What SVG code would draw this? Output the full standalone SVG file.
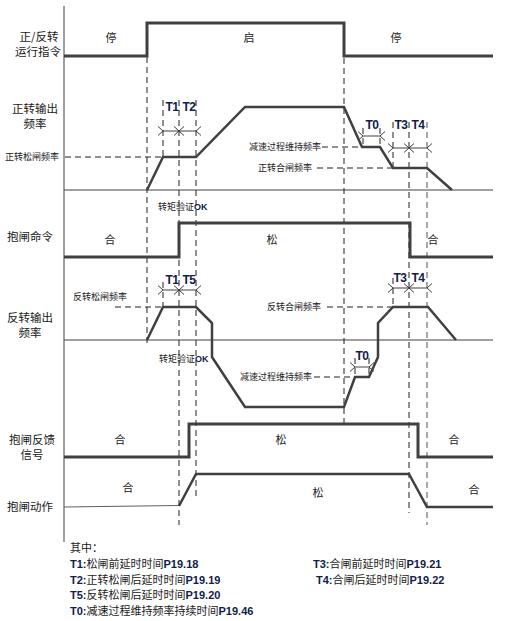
<svg xmlns="http://www.w3.org/2000/svg" width="505" height="621" viewBox="0 0 505 621">
<style>
.bg{fill:#ffffff}
.ax{stroke:#404040;stroke-width:1;fill:none}
.sig{stroke:#404040;stroke-width:3;fill:none;stroke-linejoin:miter}
.thin{stroke:#606060;stroke-width:1.2;fill:none}
.dash{stroke:#202020;stroke-width:1;stroke-dasharray:6,4;fill:none}
.arr{stroke:#404040;stroke-width:1;fill:none;marker-start:url(#ch);marker-end:url(#ch)}
.lab{font-family:"Noto Sans CJK SC","Liberation Sans",sans-serif;font-size:11.5px;fill:#1a1a1a}
.st{font-family:"Noto Sans CJK SC","Liberation Sans",sans-serif;font-size:11px;fill:#1a1a1a;text-anchor:middle}
.sm{font-family:"Noto Sans CJK SC","Liberation Sans",sans-serif;font-size:9px;fill:#1a1a1a}
.tl{font-family:"Liberation Sans","Noto Sans CJK SC",sans-serif;font-size:12px;font-weight:bold;fill:#10204a;text-anchor:middle;letter-spacing:-0.5px}
.lg{font-family:"Noto Sans CJK SC","Liberation Sans",sans-serif;font-size:11px;fill:#1a1a1a}
.b{font-family:"Liberation Sans",sans-serif;font-weight:bold;fill:#10204a}
</style>
<defs>
<marker id="ch" viewBox="-1 -6 8 12" markerWidth="8" markerHeight="12" refX="0" refY="0" orient="auto-start-reverse" markerUnits="userSpaceOnUse">
<path d="M5,-4.5 L0,0 L5,4.5" stroke="#404040" stroke-width="1" fill="none"/>
</marker>
</defs>
<rect class="bg" x="0" y="0" width="505" height="621"/>

<g id="axes">
<line class="ax" x1="64" y1="6" x2="64" y2="542"/>
<line class="ax" x1="64" y1="190" x2="493" y2="190"/>
<line class="ax" x1="64" y1="340" x2="493" y2="340"/>
</g>

<g id="connectors">
<line class="dash" x1="147" y1="57" x2="147" y2="345"/>
<line class="dash" x1="163" y1="100" x2="163" y2="157"/>
<line class="dash" x1="163" y1="282" x2="163" y2="307"/>
<line class="dash" x1="179" y1="100" x2="179" y2="525"/>
<line class="dash" x1="196" y1="100" x2="196" y2="498"/>
<line class="dash" x1="344" y1="58" x2="344" y2="423"/>
<line class="dash" x1="363" y1="128" x2="363" y2="147"/>
<line class="dash" x1="380" y1="128" x2="380" y2="147"/>
<line class="dash" x1="393" y1="122" x2="393" y2="168"/>
<line class="dash" x1="393" y1="278" x2="393" y2="307"/>
<line class="dash" x1="355" y1="358" x2="355" y2="377"/>
<line class="dash" x1="369" y1="358" x2="369" y2="377"/>
<line class="dash" x1="409" y1="122" x2="409" y2="513"/>
<line class="dash" x1="427" y1="122" x2="427" y2="525" style="stroke:#505050"/>
<line class="dash" x1="65" y1="157" x2="163" y2="157"/>
<line class="dash" x1="322" y1="147" x2="363" y2="147"/>
<line class="dash" x1="317" y1="168" x2="393" y2="168"/>
<line class="dash" x1="115" y1="307" x2="163" y2="307"/>
<line class="dash" x1="327" y1="307" x2="393" y2="307"/>
<line class="dash" x1="314" y1="377" x2="355" y2="377"/>
<line class="arr" x1="163" y1="131" x2="179" y2="131"/>
<line class="arr" x1="179" y1="131" x2="196" y2="131"/>
<line class="arr" x1="363" y1="136" x2="380" y2="136"/>
<line class="arr" x1="393" y1="148" x2="409" y2="148"/>
<line class="arr" x1="409" y1="148" x2="427" y2="148"/>
<line class="arr" x1="163" y1="290" x2="179" y2="290"/>
<line class="arr" x1="179" y1="290" x2="196" y2="290"/>
<line class="arr" x1="393" y1="288" x2="409" y2="288"/>
<line class="arr" x1="409" y1="288" x2="427" y2="288"/>
<line class="arr" x1="355" y1="367" x2="369" y2="367"/>
</g>

<g id="run-command">
<polyline class="sig" points="64,56 147,56 147,23 344,23 344,56 493,56"/>
<text class="lab" text-anchor="middle"><tspan x="39" y="41">正/反转</tspan><tspan x="38" y="56">运行指令</tspan></text>
<text class="st" x="111" y="42">停</text>
<text class="st" x="249" y="42">启</text>
<text class="st" x="396" y="42">停</text>
</g>

<g id="forward-frequency">
<polyline class="sig" points="147,190 163,157 196,157 245,107 344,107 362,147 380,147 393,168 427,168 452,190" style="stroke-width:2.5"/>
<text class="lab" text-anchor="middle"><tspan x="35" y="113">正转输出</tspan><tspan x="35" y="128">频率</tspan></text>
<text class="sm" x="5" y="160">正转松闸频率</text>
<text class="sm" x="249" y="150">减速过程维持频率</text>
<text class="sm" x="258" y="171">正转合闸频率</text>
<text class="tl" x="172" y="111">T1</text>
<text class="tl" x="189" y="111">T2</text>
<text class="tl" x="372" y="129">T0</text>
<text class="tl" x="401" y="129">T3</text>
<text class="tl" x="418" y="129">T4</text>
</g>

<g id="brake-command">
<polyline class="sig" points="64,257 179,257 179,223 410,223 410,257 493,257"/>
<text class="lab" x="7" y="241">抱闸命令</text>
<text class="st" x="110" y="244">合</text>
<text class="st" x="272" y="244">松</text>
<text class="st" x="433" y="244">合</text>
<text class="sm" x="158" y="210">转矩验证<tspan class="b">OK</tspan></text>
</g>

<g id="reverse-frequency">
<polyline class="sig" points="147,340 163,307 196,307 212,323 212,357 245,407 344,407 355,377 369,377 378,357 378,323 393,307 428,307 456,340" style="stroke-width:2.5"/>
<text class="lab" text-anchor="middle"><tspan x="30" y="322">反转输出</tspan><tspan x="30" y="337">频率</tspan></text>
<text class="sm" x="73" y="300">反转松闸频率</text>
<text class="sm" x="267" y="310">反转合闸频率</text>
<text class="sm" x="240" y="380">减速过程维持频率</text>
<text class="sm" x="159" y="362">转矩验证<tspan class="b">OK</tspan></text>
<text class="tl" x="172" y="284">T1</text>
<text class="tl" x="189" y="284">T5</text>
<text class="tl" x="400" y="282">T3</text>
<text class="tl" x="418" y="282">T4</text>
<text class="tl" x="362" y="360">T0</text>
</g>

<g id="brake-feedback">
<polyline class="sig" points="64,457 189,457 189,424 418,424 418,457 493,457"/>
<text class="lab" text-anchor="middle"><tspan x="32" y="444">抱闸反馈</tspan><tspan x="32" y="459">信号</tspan></text>
<text class="st" x="120" y="444">合</text>
<text class="st" x="281" y="444">松</text>
<text class="st" x="454" y="444">合</text>
</g>

<g id="brake-action">
<line class="thin" x1="64" y1="507" x2="179" y2="505.5"/>
<polyline class="sig" points="179,506 196,474 409,474 427,507 493,507" style="stroke-width:2.5"/>
<text class="lab" x="7" y="511">抱闸动作</text>
<text class="st" x="128" y="492">合</text>
<text class="st" x="318" y="497">松</text>
<text class="st" x="474" y="494">合</text>
</g>

<g id="legend">
<text class="lg"><tspan x="70" y="552">其中：</tspan><tspan x="70" y="568"><tspan class="b">T1:</tspan>松闸前延时时间<tspan class="b">P19.18</tspan></tspan><tspan x="70" y="584"><tspan class="b">T2:</tspan>正转松闸后延时时间<tspan class="b">P19.19</tspan></tspan><tspan x="70" y="599"><tspan class="b">T5:</tspan>反转松闸后延时时间<tspan class="b">P19.20</tspan></tspan><tspan x="70" y="615"><tspan class="b">T0:</tspan>减速过程维持频率持续时间<tspan class="b">P19.46</tspan></tspan></text>
<text class="lg"><tspan x="313" y="568"><tspan class="b">T3:</tspan>合闸前延时时间<tspan class="b">P19.21</tspan></tspan><tspan x="316" y="584"><tspan class="b">T4:</tspan>合闸后延时时间<tspan class="b">P19.22</tspan></tspan></text>
</g>
</svg>
